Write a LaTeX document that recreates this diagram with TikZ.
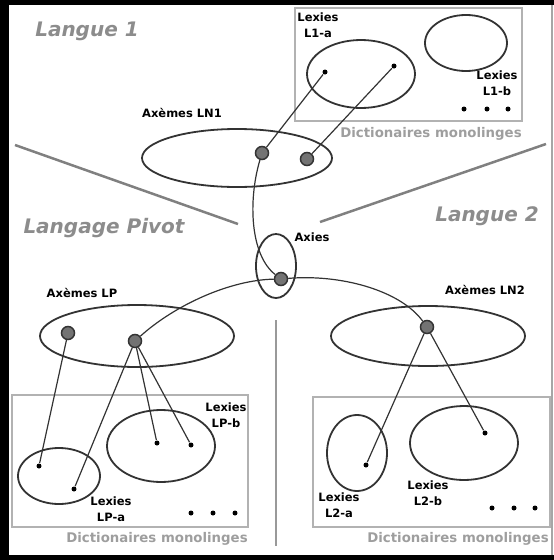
\documentclass[tikz,border=0pt]{standalone}
\usepackage{fontspec}
\setsansfont{DejaVu Sans}
\usetikzlibrary{shapes.geometric}

\begin{document}
\begin{tikzpicture}[x=1pt,y=-1pt,line width=1.2pt,
                    axe node/.style={circle,draw=black!80,fill=black!55,line width=1.5pt,inner sep=0pt,minimum size=13pt},
                    lexie/.style={circle,fill=black,inner sep=0pt,minimum size=5pt},
                    set/.style={ellipse,draw=black!80,line width=1.8pt,inner sep=0pt},
                    dico/.style={draw=black!30,line width=1.4pt},
                    langue/.style={font=\sffamily\bfseries\itshape\fontsize{20}{24}\selectfont,text=black!45},
                    titre/.style={font=\sffamily\bfseries\fontsize{11.5}{15.5}\selectfont,align=center},
                    dico label/.style={font=\sffamily\bfseries\fontsize{13.3}{15}\selectfont,text=black!38}]
  \useasboundingbox (0,0) rectangle (554,560);
  % frame
  \fill[black] (0,0) rectangle (554,5);
  \fill[black] (0,0) rectangle (9,560);
  \fill[black] (0,555) rectangle (554,560);
  \draw[black!35,line width=2pt] (552,5) -- (552,555);
  % zones
  \draw[black!50,line width=2.5pt] (15,145) -- (238,224);
  \draw[black!50,line width=2.5pt] (320,222) -- (546,144);
  \draw[black!40,line width=2pt] (276,320) -- (276,546);
  \node[langue] (lang1) at (87,31) {Langue 1};
  \node[langue] (pivot) at (104,228) {Langage Pivot};
  \node[langue] (lang2) at (487,216) {Langue 2};

  % dictionaries
  \draw[dico] (295,8) rectangle (522,121);
  \draw[dico] (12,395) rectangle (248,527);
  \draw[dico] (313,397) rectangle (550,527);
  \node[dico label] (d1) at (431,134) {Dictionaires monolinges};
  \node[dico label] (dp) at (157,539) {Dictionaires monolinges};
  \node[dico label] (d2) at (458,539) {Dictionaires monolinges};

  % Langue 1
  \node[set,minimum width=190pt,minimum height=58pt] (ln1) at (237,158) {};
  \node[titre] (ln1 label) at (182,113) {Axèmes LN1};
  \node[set,minimum width=108pt,minimum height=68pt] (l1a) at (361,74) {};
  \node[set,minimum width=82pt,minimum height=56pt] (l1b) at (466,43) {};
  \node[titre] (l1a label) at (318,25) {Lexies\\L1-a};
  \node[titre] (l1b label) at (497,83) {Lexies\\L1-b};
  \node[lexie] (l1a1) at (325,72) {};
  \node[lexie] (l1a2) at (394,66) {};
  \foreach \x in {464,487,508}
    \node[lexie] (t\x) at (\x,109) {};

  % pivot
  \node[set,minimum width=40pt,minimum height=64pt] (ax set) at (276,266) {};
  \node[titre] (ax label) at (312,237) {Axies};
  \node[set,minimum width=194pt,minimum height=62pt] (lp) at (137,336) {};
  \node[titre] (lp label) at (82,293) {Axèmes LP};
  \node[set,minimum width=82pt,minimum height=56pt] (lpa) at (59,476) {};
  \node[set,minimum width=108pt,minimum height=72pt] (lpb) at (161,446) {};
  \node[titre] (lpa label) at (111,509) {Lexies\\LP-a};
  \node[titre] (lpb label) at (226,415) {Lexies\\LP-b};
  \node[lexie] (lpa1) at (39,466) {};
  \node[lexie] (lpa2) at (74,489) {};
  \node[lexie] (lpb1) at (157,443) {};
  \node[lexie] (lpb2) at (191,445) {};
  \foreach \x in {191,213,235}
    \node[lexie] (p\x) at (\x,513) {};

  % Langue 2
  \node[set,minimum width=194pt,minimum height=60pt] (ln2) at (428,336) {};
  \node[titre] (ln2 label) at (485,290) {Axèmes LN2};
  \node[set,minimum width=60pt,minimum height=76pt] (l2a) at (357,453) {};
  \node[set,minimum width=108pt,minimum height=74pt] (l2b) at (464,443) {};
  \node[titre] (l2a label) at (339,505) {Lexies\\L2-a};
  \node[titre] (l2b label) at (428,493) {Lexies\\L2-b};
  \node[lexie] (l2a1) at (366,465) {};
  \node[lexie] (l2b1) at (485,433) {};
  \foreach \x in {492,514,535}
    \node[lexie] (s\x) at (\x,508) {};

  % axemes
  \node[axe node] (ln1a) at (262,153) {};
  \node[axe node] (ln1b) at (307,159) {};
  \node[axe node] (ax) at (281,279) {};
  \node[axe node] (lpx) at (68,333) {};
  \node[axe node] (lpy) at (135,341) {};
  \node[axe node] (ln2a) at (427,327) {};

  \path[draw=black!80]
    (ln1a) edge (l1a1)
    (ln1b) edge (l1a2)
    (lpx) edge (lpa1)
    (lpy) edge (lpa2)
          edge (lpb1)
          edge (lpb2)
    (ln2a) edge (l2a1)
           edge (l2b1);
  \draw[black!80] (ln1a) .. controls (248,200) and (250,255) .. (ax);
  \draw[black!80] (ax) .. controls (230,280) and (175,305) .. (lpy);
  \draw[black!80] (ax) .. controls (340,274) and (400,290) .. (ln2a);
\end{tikzpicture}
\end{document}
